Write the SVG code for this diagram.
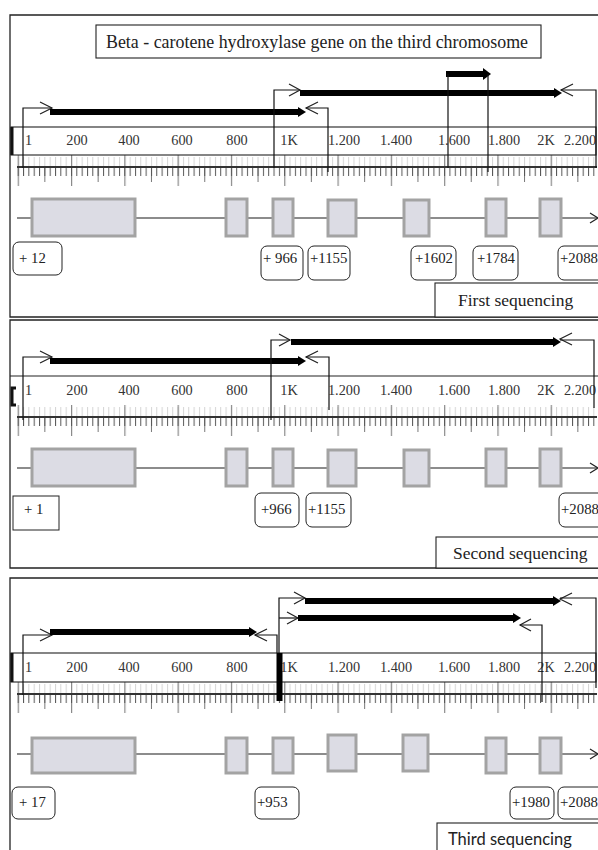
<svg xmlns="http://www.w3.org/2000/svg" width="598" height="850" viewBox="0 0 598 850">
<style>
.frame{fill:none;stroke:#222;stroke-width:1.3}
.box{fill:#fff;stroke:#222;stroke-width:1.1}
.lbl{fill:#fff;stroke:#222;stroke-width:1}
.t{font-family:"Liberation Serif",serif;fill:#222}
.rt{font-family:"Liberation Serif",serif;font-size:14.3px;fill:#333}
.lt{font-family:"Liberation Serif",serif;font-size:14.8px;fill:#222}
.seq{font-family:"Liberation Serif",serif;font-size:17.5px;fill:#222}
.exon{fill:#dcdce4;stroke:#a3a3a3;stroke-width:3}
.gline{stroke:#666;stroke-width:1.3;fill:none}
.thin{fill:none;stroke:#111;stroke-width:1.2}
.bar{stroke:#000;stroke-width:6}
.head{fill:#000}
.chev{fill:none;stroke:#222;stroke-width:1.2}
</style>
<defs>
<pattern id="minor" x="17.7" y="0" width="5.33" height="1000" patternUnits="userSpaceOnUse"><rect x="0" y="0" width="1" height="1000" fill="#555"/></pattern>
<pattern id="minorf" x="17.7" y="0" width="5.33" height="1000" patternUnits="userSpaceOnUse"><rect x="0" y="0" width="1" height="1000" fill="#d4d4d4"/></pattern>
<pattern id="half" x="44.35" y="0" width="53.3" height="1000" patternUnits="userSpaceOnUse"><rect x="0" y="0" width="1" height="1000" fill="#777"/></pattern>
<pattern id="major" x="17.7" y="0" width="53.3" height="1000" patternUnits="userSpaceOnUse"><rect x="0" y="0" width="1.2" height="1000" fill="#8a8a8a"/></pattern>
</defs>

<!-- ================= PANEL 1 ================= -->
<g id="panel1">
<path class="frame" d="M598,15 H10 V317 H598"/>
<g id="title1"><rect class="box" x="96" y="25" width="445" height="33"/>
<text class="t" x="106" y="48" font-size="18" textLength="422" lengthAdjust="spacingAndGlyphs">Beta - carotene hydroxylase gene on the third  chromosome</text></g>
<g id="ruler1">
<rect fill="url(#minorf)" x="17" y="157" width="580" height="9"/>
<rect fill="url(#major)" x="17" y="155" width="581" height="31"/>
<rect fill="url(#half)" x="17" y="167" width="581" height="15"/>
<rect fill="url(#minor)" x="17" y="167" width="581" height="9"/>
<line x1="17" y1="167" x2="597" y2="167" stroke="#333" stroke-width="2"/>
<rect fill="none" stroke="#222" stroke-width="1.1" x="11" y="127" width="585" height="28"/>
<line x1="12" y1="127" x2="12" y2="155" stroke="#111" stroke-width="3"/>
<text class="rt" x="25" y="145">1</text>
<g text-anchor="middle" class="rt">
<text x="77" y="145">200</text><text x="129" y="145">400</text><text x="182" y="145">600</text><text x="237" y="145">800</text><text x="289" y="145">1K</text><text x="344" y="145">1.200</text><text x="396" y="145">1.400</text><text x="454" y="145">1.600</text><text x="504" y="145">1.800</text><text x="546" y="145">2K</text><text x="580" y="145">2.200</text>
</g>
</g>
<g id="gene1">
<line class="gline" x1="17" y1="218" x2="597" y2="218"/>
<path class="chev" d="M590,213 L598,218 L590,223"/>
<rect class="exon" x="32" y="199" width="103" height="37"/>
<rect class="exon" x="226" y="199" width="21" height="37"/>
<rect class="exon" x="273" y="199" width="20" height="37"/>
<rect class="exon" x="328" y="200" width="28" height="36"/>
<rect class="exon" x="404" y="200" width="25" height="36"/>
<rect class="exon" x="486" y="199" width="20" height="37" stroke-width="4"/>
<rect class="exon" x="540" y="199" width="21" height="37" stroke-width="4"/>
</g>
<g id="labels1">
<g id="l1a"><rect class="lbl" x="13" y="242" width="49" height="33" rx="6"/><text class="lt" x="19" y="263">+ 12</text></g>
<g id="l1b"><rect class="lbl" x="261" y="246" width="42" height="34" rx="6"/><text class="lt" x="263" y="263">+ 966</text></g>
<g id="l1c"><rect class="lbl" x="308" y="246" width="42" height="34" rx="6"/><text class="lt" x="310" y="263">+1155</text></g>
<g id="l1d"><rect class="lbl" x="411" y="246" width="45" height="34" rx="6"/><text class="lt" x="415" y="263">+1602</text></g>
<g id="l1e"><rect class="lbl" x="473" y="246" width="45" height="34" rx="6"/><text class="lt" x="477" y="263">+1784</text></g>
<g id="l1f"><rect class="lbl" x="558" y="246" width="48" height="34" rx="6"/><text class="lt" x="560" y="263">+2088</text></g>
</g>
<g id="seq1"><rect class="box" x="435" y="283" width="170" height="34"/><text class="seq" x="458" y="306">First sequencing</text></g>
<g id="connectors1">
<path class="thin" d="M23,168 V108 H52"/><path class="chev" d="M40,102 L52,108 L40,114"/>
<line class="bar" x1="50" y1="112" x2="300" y2="112"/><polygon class="head" points="298,107 306,112 298,117"/>
<path class="chev" d="M318,102 L306,108 L318,114"/><path class="thin" d="M306,108 H328 V172"/>
<path class="thin" d="M274,168 V90 H300"/><path class="chev" d="M289,84 L300,90 L289,96"/>
<line class="bar" x1="300" y1="93" x2="556" y2="93"/><polygon class="head" points="554,88 562,93 554,98"/>
<path class="chev" d="M573,84 L561,90 L573,96"/><path class="thin" d="M561,90 H596 V168"/>
<line class="bar" x1="446" y1="74" x2="485" y2="74"/><polygon class="head" points="483,68 491,74 483,80"/>
<line class="thin" x1="448" y1="74" x2="448" y2="168"/>
<line class="thin" x1="488" y1="74" x2="488" y2="172"/>
</g>
</g>

<!-- ================= PANEL 2 ================= -->
<g id="panel2">
<path class="frame" d="M598,320 H10 V568 H598"/>
<g id="ruler2" transform="translate(0,250)">
<rect fill="url(#minorf)" x="17" y="157" width="580" height="9"/>
<rect fill="url(#major)" x="17" y="155" width="581" height="31"/>
<rect fill="url(#half)" x="17" y="167" width="581" height="15"/>
<rect fill="url(#minor)" x="17" y="167" width="581" height="9"/>
<line x1="17" y1="167" x2="597" y2="167" stroke="#333" stroke-width="2"/>
<path fill="none" stroke="#222" stroke-width="1.1" d="M10,126 H598"/>
<path fill="none" stroke="#111" stroke-width="3" d="M16,138 H12 V155 H16"/>
<text class="rt" x="25" y="145">1</text>
<g text-anchor="middle" class="rt">
<text x="77" y="145">200</text><text x="129" y="145">400</text><text x="182" y="145">600</text><text x="237" y="145">800</text><text x="289" y="145">1K</text><text x="344" y="145">1.200</text><text x="396" y="145">1.400</text><text x="454" y="145">1.600</text><text x="504" y="145">1.800</text><text x="546" y="145">2K</text><text x="580" y="145">2.200</text>
</g>
</g>
<g id="gene2" transform="translate(0,250)">
<line class="gline" x1="17" y1="218" x2="597" y2="218"/>
<path class="chev" d="M590,213 L598,218 L590,223"/>
<rect class="exon" x="32" y="199" width="103" height="37"/>
<rect class="exon" x="226" y="199" width="21" height="37"/>
<rect class="exon" x="273" y="199" width="20" height="37"/>
<rect class="exon" x="328" y="200" width="28" height="36"/>
<rect class="exon" x="404" y="200" width="25" height="36"/>
<rect class="exon" x="486" y="199" width="20" height="37" stroke-width="4"/>
<rect class="exon" x="540" y="199" width="21" height="37" stroke-width="4"/>
</g>
<g id="labels2">
<g id="l2a"><rect class="lbl" x="13" y="496" width="46" height="34"/><text class="lt" x="24" y="514">+ 1</text></g>
<g id="l2b"><rect class="lbl" x="255" y="493" width="44" height="34" rx="6"/><text class="lt" x="261" y="514">+966</text></g>
<g id="l2c"><rect class="lbl" x="306" y="493" width="45" height="34" rx="6"/><text class="lt" x="308" y="514">+1155</text></g>
<g id="l2d"><rect class="lbl" x="559" y="493" width="48" height="34" rx="6"/><text class="lt" x="561" y="514">+2088</text></g>
</g>
<g id="seq2"><rect class="box" x="436" y="537" width="170" height="31"/><text class="seq" x="453" y="559">Second sequencing</text></g>
<g id="connectors2">
<path class="thin" d="M23,420 V357 H52"/><path class="chev" d="M40,351 L52,357 L40,363"/>
<line class="bar" x1="50" y1="361" x2="300" y2="361"/><polygon class="head" points="298,356 306,361 298,366"/>
<path class="chev" d="M318,351 L306,357 L318,363"/><path class="thin" d="M306,357 H329 V410"/>
<path class="thin" d="M271,420 V340 H290"/><path class="chev" d="M279,334 L290,340 L279,346"/>
<line class="bar" x1="291" y1="342" x2="555" y2="342"/><polygon class="head" points="553,337 561,342 553,347"/>
<path class="chev" d="M572,333 L560,339 L572,345"/><path class="thin" d="M560,340 H594 V408"/>
</g>
</g>

<!-- ================= PANEL 3 ================= -->
<g id="panel3">
<path class="frame" d="M598,578 H10 V851"/>
<g id="ruler3" transform="translate(0,527)">
<rect fill="url(#minorf)" x="17" y="157" width="580" height="9"/>
<rect fill="url(#major)" x="17" y="155" width="581" height="31"/>
<rect fill="url(#half)" x="17" y="167" width="581" height="15"/>
<rect fill="url(#minor)" x="17" y="167" width="581" height="9"/>
<line x1="17" y1="167" x2="597" y2="167" stroke="#333" stroke-width="2"/>
<rect fill="none" stroke="#222" stroke-width="1.1" x="11" y="126" width="585" height="29"/>
<line x1="12" y1="126" x2="12" y2="155" stroke="#111" stroke-width="3"/>
<text class="rt" x="25" y="145">1</text>
<g text-anchor="middle" class="rt">
<text x="77" y="145">200</text><text x="129" y="145">400</text><text x="182" y="145">600</text><text x="237" y="145">800</text><text x="289" y="145">1K</text><text x="344" y="145">1.200</text><text x="396" y="145">1.400</text><text x="454" y="145">1.600</text><text x="504" y="145">1.800</text><text x="546" y="145">2K</text><text x="580" y="145">2.200</text>
</g>
</g>
<g id="gene3" transform="translate(0,537)">
<line class="gline" x1="17" y1="217" x2="597" y2="217"/>
<path class="chev" d="M590,212 L598,217 L590,222"/>
<rect class="exon" x="32" y="201" width="103" height="35"/>
<rect class="exon" x="226" y="201" width="21" height="35"/>
<rect class="exon" x="273" y="201" width="20" height="35"/>
<rect class="exon" x="328" y="198" width="28" height="36"/>
<rect class="exon" x="403" y="198" width="25" height="36"/>
<rect class="exon" x="486" y="201" width="20" height="35" stroke-width="4"/>
<rect class="exon" x="540" y="201" width="21" height="35" stroke-width="4"/>
</g>
<g id="labels3">
<g id="l3a"><rect class="lbl" x="12" y="787" width="43" height="32" rx="6"/><text class="lt" x="19" y="807">+ 17</text></g>
<g id="l3b"><rect class="lbl" x="255" y="787" width="44" height="32" rx="6"/><text class="lt" x="257" y="807">+953</text></g>
<g id="l3c"><rect class="lbl" x="510" y="787" width="44" height="32" rx="6"/><text class="lt" x="512" y="807">+1980</text></g>
<g id="l3d"><rect class="lbl" x="558" y="787" width="48" height="32" rx="6"/><text class="lt" x="560" y="807">+2088</text></g>
</g>
<g id="seq3"><rect class="box" x="437" y="823" width="170" height="30"/><text x="448" y="845" font-family="Lato, 'Open Sans', sans-serif" font-size="16.5" fill="#222">Third sequencing</text></g>
<g id="connectors3">
<path class="thin" d="M23,695 V635 H52"/><path class="chev" d="M40,629 L52,635 L40,641"/>
<line class="bar" x1="50" y1="632" x2="251" y2="632"/><polygon class="head" points="249,627 257,632 249,637"/>
<path class="chev" d="M267,629 L255,635 L267,641"/><path class="thin" d="M255,635 H277 V653"/>
<rect x="276.5" y="653" width="6" height="48" fill="#000"/>
<path class="thin" d="M279,653 V598 H305"/><path class="chev" d="M294,592 L305,598 L294,604"/>
<line class="bar" x1="305" y1="601" x2="555" y2="601"/><polygon class="head" points="553,596 561,601 553,606"/>
<path class="chev" d="M572,593 L560,599 L572,605"/><path class="thin" d="M560,598 H596 V688"/>
<path class="thin" d="M279,618 H298"/><path class="chev" d="M287,612 L298,618 L287,624"/>
<line class="bar" x1="298" y1="618" x2="515" y2="618"/><polygon class="head" points="513,613 521,618 513,623"/>
<path class="chev" d="M531,619 L520,625 L531,631"/><path class="thin" d="M520,625 H542 V702"/>
</g>
</g>
</svg>
